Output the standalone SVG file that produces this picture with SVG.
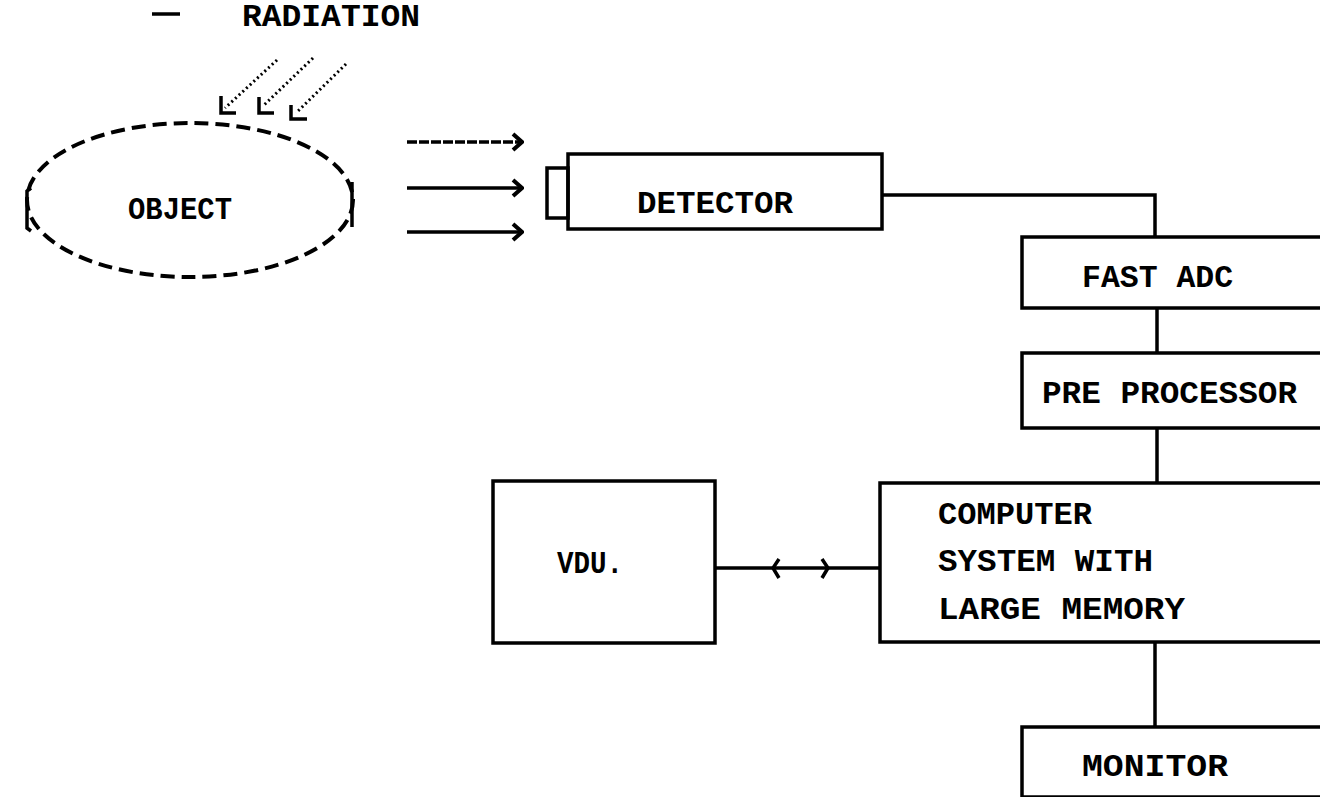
<svg xmlns="http://www.w3.org/2000/svg" width="1320" height="797" viewBox="0 0 1320 797">
<style>
.box{fill:none;stroke:#000;stroke-width:3.5}
.ln{fill:none;stroke:#000;stroke-width:3.5}
.t{font-family:"Liberation Mono","DejaVu Sans Mono",monospace;font-weight:bold;font-size:32px;fill:#000}
.dot{fill:none;stroke:#000;stroke-width:3;stroke-dasharray:2 3}
</style>
<defs>
<marker id="chev" viewBox="0 0 14 20" refX="12" refY="10" markerWidth="14" markerHeight="20" markerUnits="userSpaceOnUse" orient="auto">
<polyline points="3,2 12,10 3,18" fill="none" stroke="#000" stroke-width="4"/>
</marker>
</defs>
<rect width="1320" height="797" fill="#fff"/>

<g id="radiation">
<line x1="152" y1="14" x2="180" y2="14" class="ln"/>
<text x="242" y="26" class="t" font-size="27" textLength="178" lengthAdjust="spacingAndGlyphs">RADIATION</text>
<path d="M277 60 L225 108" class="dot"/>
<path d="M221 96 V113 H236" class="ln" stroke-width="4"/>
<path d="M313 58 L263 106" class="dot"/>
<path d="M259 97 V113 H274" class="ln" stroke-width="4"/>
<path d="M346 64 L296 113" class="dot"/>
<path d="M291 105 V119 H307" class="ln" stroke-width="4"/>
</g>

<g id="object">
<ellipse cx="190" cy="200" rx="163" ry="77" fill="none" stroke="#000" stroke-width="4" stroke-dasharray="14 7"/>
<path d="M31 188 L27 191 V228 L31 231" class="ln"/>
<line x1="352" y1="182" x2="352" y2="227" class="ln"/>
<text x="128" y="219" class="t" textLength="104" lengthAdjust="spacingAndGlyphs">OBJECT</text>
</g>

<g id="detector">
<rect x="547" y="168" width="21" height="50" class="box"/>
<rect x="568" y="154" width="314" height="75" class="box"/>
<text x="637" y="213" class="t" textLength="156" lengthAdjust="spacingAndGlyphs">DETECTOR</text>
</g>

<g id="fast-adc">
<rect x="1022" y="237" width="310" height="71" class="box"/>
<text x="1082" y="287" class="t" textLength="151" lengthAdjust="spacingAndGlyphs">FAST ADC</text>
</g>

<g id="pre-processor">
<rect x="1022" y="353" width="310" height="75" class="box"/>
<text x="1042" y="403" class="t" textLength="255" lengthAdjust="spacingAndGlyphs">PRE PROCESSOR</text>
</g>

<g id="computer">
<rect x="880" y="483" width="452" height="159" class="box"/>
<text x="938" y="524" class="t" textLength="154" lengthAdjust="spacingAndGlyphs">COMPUTER</text>
<text x="938" y="571" class="t" textLength="215" lengthAdjust="spacingAndGlyphs">SYSTEM WITH</text>
<text x="938" y="619" class="t" textLength="247" lengthAdjust="spacingAndGlyphs">LARGE MEMORY</text>
</g>

<g id="vdu">
<rect x="493" y="481" width="222" height="162" class="box"/>
<text x="557" y="573" class="t" textLength="66" lengthAdjust="spacingAndGlyphs">VDU.</text>
</g>

<g id="monitor">
<rect x="1022" y="727" width="310" height="70" class="box"/>
<text x="1082" y="776" class="t" textLength="146" lengthAdjust="spacingAndGlyphs">MONITOR</text>
</g>

<g id="connectors">
<line x1="407" y1="142" x2="522" y2="142" class="ln" stroke-dasharray="10 2" marker-end="url(#chev)"/>
<line x1="407" y1="188" x2="522" y2="188" class="ln" marker-end="url(#chev)"/>
<line x1="407" y1="232" x2="522" y2="232" class="ln" marker-end="url(#chev)"/>
<polyline points="882,195 1155,195 1155,237" class="ln"/>
<line x1="1157" y1="308" x2="1157" y2="353" class="ln"/>
<line x1="1157" y1="428" x2="1157" y2="483" class="ln"/>
<line x1="715" y1="568" x2="880" y2="568" class="ln"/>
<polyline points="779,559 773,568 779,578" class="ln"/>
<polyline points="822,559 828,568 822,578" class="ln"/>
<line x1="1155" y1="642" x2="1155" y2="727" class="ln"/>
</g>
</svg>
